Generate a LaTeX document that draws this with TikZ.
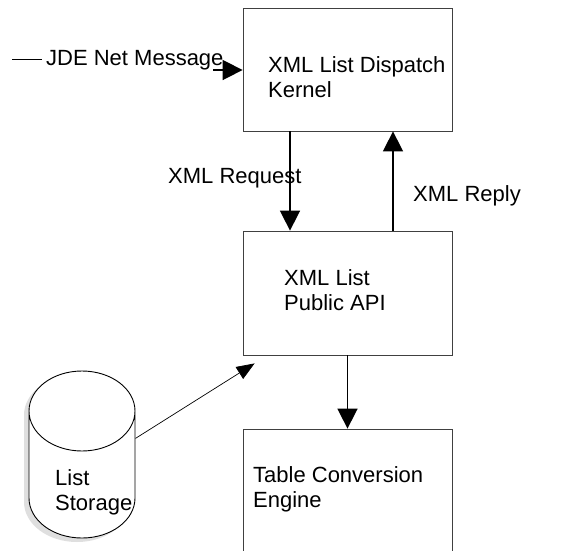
\documentclass[tikz,border=0pt]{standalone}
\usepackage{fontspec}
\setmainfont{Liberation Sans}
\usetikzlibrary{arrows.meta,shapes.geometric,shadows}

\begin{document}
\begin{tikzpicture}[x=1pt,y=-1pt]
  \useasboundingbox (0,0) rectangle (566,550);  % Bildgroesse festlegen.
  \tikzstyle{box}=[draw=black!75, line width=0.8pt, minimum width=209pt, inner sep=0pt]
  \tikzstyle{txt}=[inner sep=0pt, align=left, font=\fontsize{22}{25}\selectfont]
  \tikzstyle{flow}=[line width=1.6pt, -{Triangle[length=20pt,width=20pt]}]
  \tikzstyle{feed}=[line width=0.7pt, -{Triangle[length=18pt,width=14pt]}]
  \tikzstyle{store}=[cylinder, shape border rotate=90, aspect=12, draw, fill=white,
    line width=0.9pt, minimum width=106pt, minimum height=167pt,
    drop shadow={shadow xshift=-5pt, shadow yshift=-4pt, fill=black!25}]

  \node[box, minimum height=123pt] (kernel) at (347.5, 69.5) {};
  \node[box, minimum height=124pt] (api)    at (347.5, 293)  {};
  \node[box, minimum height=130pt] (table)  at (347.5, 494)  {};
  \node[store, anchor=shape center] (storage) at (82, 454.5) {};

  \node[txt, anchor=north west] (kerneltext) at (268, 56)  {XML List Dispatch\\Kernel};
  \node[txt, anchor=north west] (apitext)    at (284, 269) {XML List\\Public API};
  \node[txt, anchor=north west] (tabletext)  at (253, 466) {Table Conversion\\Engine};
  \node[txt, anchor=north west] (storetext)  at (55, 469)  {List\\Storage};
  \node[txt, anchor=base west]  (msg)        at (46, 65)   {JDE Net Message};
  \node[txt, anchor=base west]  (request)    at (168, 183) {XML Request};
  \node[txt, anchor=base west]  (reply)      at (413, 201) {XML Reply};

  \coordinate (dash) at (12, 59);
  \coordinate (msgend) at (213, 70);

  \path[line width=0.8pt] (dash) edge[shorten >=4pt] (dash -| msg.west);
  \path[flow] (msgend) edge (msgend -| kernel.west);
  \path[flow] ([xshift=-57.5pt]kernel.south) edge ([xshift=-57.5pt]api.north);
  \path[flow] ([xshift=45.5pt]api.north) edge ([xshift=45.5pt]kernel.south);
  \path[flow] (api) edge (table);
  \path[feed] (storage.39) edge ([xshift=12pt,yshift=-8pt]api.south west);
\end{tikzpicture}
\end{document}
